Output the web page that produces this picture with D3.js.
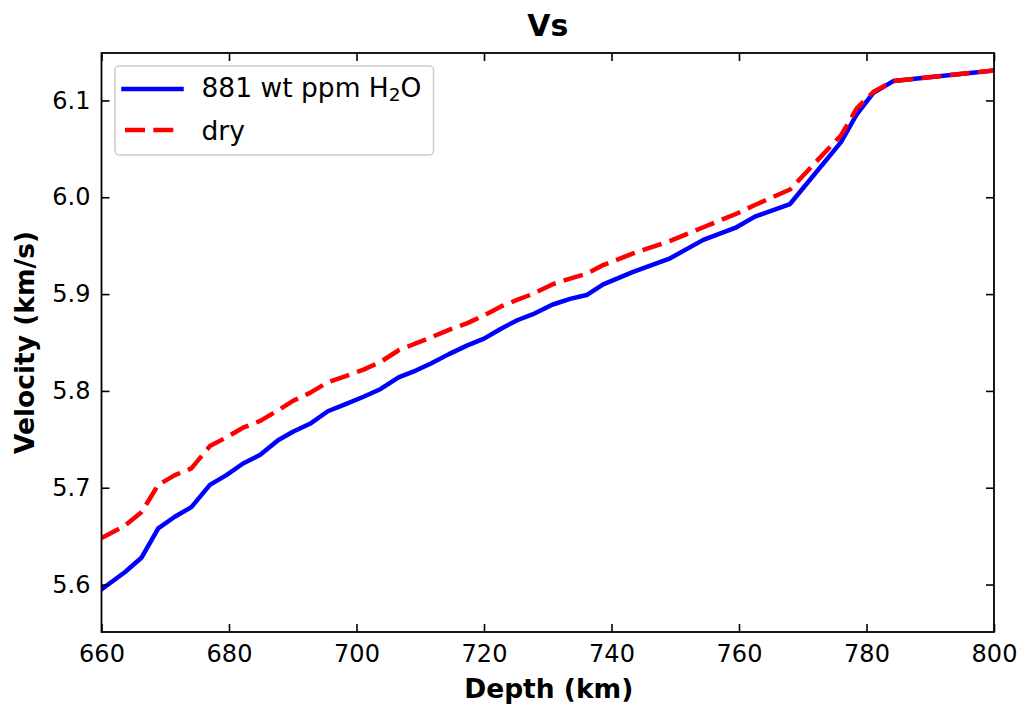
<!DOCTYPE html>
<html>
<head>
<meta charset="utf-8">
<script src="https://cdn.jsdelivr.net/npm/d3@7/dist/d3.min.js"></script>
<style>
  html, body { margin: 0; padding: 0; background: #fff; }
  svg { display: block; }
  text { font-family: "DejaVu Sans", sans-serif; fill: #000; }
</style>
</head>
<body>
<svg id="chart" width="1023" height="706"></svg>
<script>
// ---- data ----
const depth = [660, 663.7, 666.3, 668.9, 671.5, 674.1, 677.0, 679.6, 682.2, 684.9, 687.7, 690.1, 692.7, 695.5, 698.2,
  701.1, 703.8, 706.6, 709.3, 711.6, 714.5, 717.4, 720.0, 722.6, 725.2, 727.6, 730.7, 733.5, 736.1, 738.7,
  743.4, 749.2, 754.4, 759.6, 762.5, 768.0, 776.0, 778.5, 781.1, 784.2, 800];
const vsWet = [5.595, 5.613, 5.628, 5.658, 5.670, 5.680, 5.703, 5.713, 5.725, 5.734, 5.749, 5.758, 5.766, 5.779, 5.786,
  5.794, 5.802, 5.814, 5.821, 5.828, 5.838, 5.847, 5.854, 5.864, 5.873, 5.879, 5.889, 5.895, 5.899, 5.910,
  5.923, 5.937, 5.956, 5.969, 5.980, 5.993, 6.057, 6.086, 6.108, 6.120, 6.131];
const vsDry = [5.648, 5.661, 5.675, 5.703, 5.713, 5.720, 5.743, 5.752, 5.762, 5.769, 5.780, 5.790, 5.798, 5.809, 5.815,
  5.822, 5.830, 5.842, 5.849, 5.855, 5.863, 5.870, 5.878, 5.887, 5.894, 5.900, 5.910, 5.916, 5.921, 5.930,
  5.942, 5.955, 5.969, 5.983, 5.992, 6.008, 6.064, 6.092, 6.109, 6.120, 6.131];
const xTicks = [660, 680, 700, 720, 740, 760, 780, 800];
const yTicks = [5.6, 5.7, 5.8, 5.9, 6.0, 6.1];
const seriesNames = ["881 wt ppm H", "dry"];

// ---- layout ----
const L = 101.5, R = 994, T = 53, B = 632;
const svg = d3.select("#chart");
const x = d3.scaleLinear().domain([660, 800]).range([L, R]);
const y = d3.scaleLinear().domain([5.551, 6.149]).range([B, T]);

svg.append("defs").append("clipPath").attr("id", "clip")
  .append("rect").attr("x", L).attr("y", T).attr("width", R - L).attr("height", B - T);

const line = d3.line().x(d => x(d[0])).y(d => y(d[1]));
const wet = depth.map((d, i) => [d, vsWet[i]]);
const dry = depth.map((d, i) => [d, vsDry[i]]);
const LW = 4.5;

const plot = svg.append("g").attr("clip-path", "url(#clip)");
plot.append("path").datum(wet).attr("d", line)
  .attr("fill", "none").attr("stroke", "#0000ff").attr("stroke-width", LW)
  .attr("stroke-linejoin", "round").attr("stroke-linecap", "square");
plot.append("path").datum(dry).attr("d", line)
  .attr("fill", "none").attr("stroke", "#ff0000").attr("stroke-width", LW)
  .attr("stroke-dasharray", "20,8.3")
  .attr("stroke-linejoin", "round").attr("stroke-linecap", "butt");

// ---- axes (inward ticks on all four sides) ----
function styleAxis(g) {
  g.select(".domain").remove();
  g.selectAll(".tick line").attr("stroke", "#000").attr("stroke-width", 1.6);
  g.selectAll(".tick text").attr("font-size", 24).attr("font-family", "DejaVu Sans, sans-serif");
}
svg.append("g").attr("transform", `translate(0,${B})`)
  .call(d3.axisBottom(x).tickValues(xTicks).tickFormat(d3.format("d")).tickSize(-8).tickPadding(13))
  .call(styleAxis);
svg.append("g").attr("transform", `translate(0,${T})`)
  .call(d3.axisTop(x).tickValues(xTicks).tickFormat("").tickSize(-8))
  .call(styleAxis);
svg.append("g").attr("transform", `translate(${L},0)`)
  .call(d3.axisLeft(y).tickValues(yTicks).tickFormat(d3.format(".1f")).tickSize(-8).tickPadding(11))
  .call(styleAxis);
svg.append("g").attr("transform", `translate(${R},0)`)
  .call(d3.axisRight(y).tickValues(yTicks).tickFormat("").tickSize(-8))
  .call(styleAxis);

svg.append("rect").attr("x", L).attr("y", T).attr("width", R - L).attr("height", B - T)
  .attr("fill", "none").attr("stroke", "#000").attr("stroke-width", 1.8);

// ---- labels ----
svg.append("text").attr("x", (L + R) / 2).attr("y", 36).attr("text-anchor", "middle")
  .attr("font-size", 30).attr("font-weight", "bold").text("Vs");
svg.append("text").attr("x", (L + R) / 2 + 1).attr("y", 698).attr("text-anchor", "middle")
  .attr("font-size", 26.5).attr("font-weight", "bold").text("Depth (km)");
svg.append("text").attr("transform", `translate(33.5,${(T + B) / 2}) rotate(-90)`).attr("text-anchor", "middle")
  .attr("font-size", 26.5).attr("font-weight", "bold").text("Velocity (km/s)");

// ---- legend ----
const lg = svg.append("g");
lg.append("rect").attr("x", 115).attr("y", 66).attr("width", 318.5).attr("height", 89)
  .attr("rx", 4).attr("fill", "#fff").attr("fill-opacity", 0.8)
  .attr("stroke", "#cccccc").attr("stroke-width", 1.5);
lg.append("line").attr("x1", 123.5).attr("x2", 181.5).attr("y1", 89).attr("y2", 89)
  .attr("stroke", "#0000ff").attr("stroke-width", LW).attr("stroke-linecap", "square");
lg.append("line").attr("x1", 125).attr("x2", 181.5).attr("y1", 130).attr("y2", 130)
  .attr("stroke", "#ff0000").attr("stroke-width", LW).attr("stroke-dasharray", "20,8.3");
const t1 = lg.append("text").attr("x", 201.5).attr("y", 97).attr("font-size", 26.5);
t1.append("tspan").text(seriesNames[0]);
t1.append("tspan").attr("font-size", 18.5).attr("dy", 4).text("2");
t1.append("tspan").attr("dy", -4).text("O");
lg.append("text").attr("x", 201.5).attr("y", 139.5).attr("font-size", 26.5).text(seriesNames[1]);
</script>
</body>
</html>
